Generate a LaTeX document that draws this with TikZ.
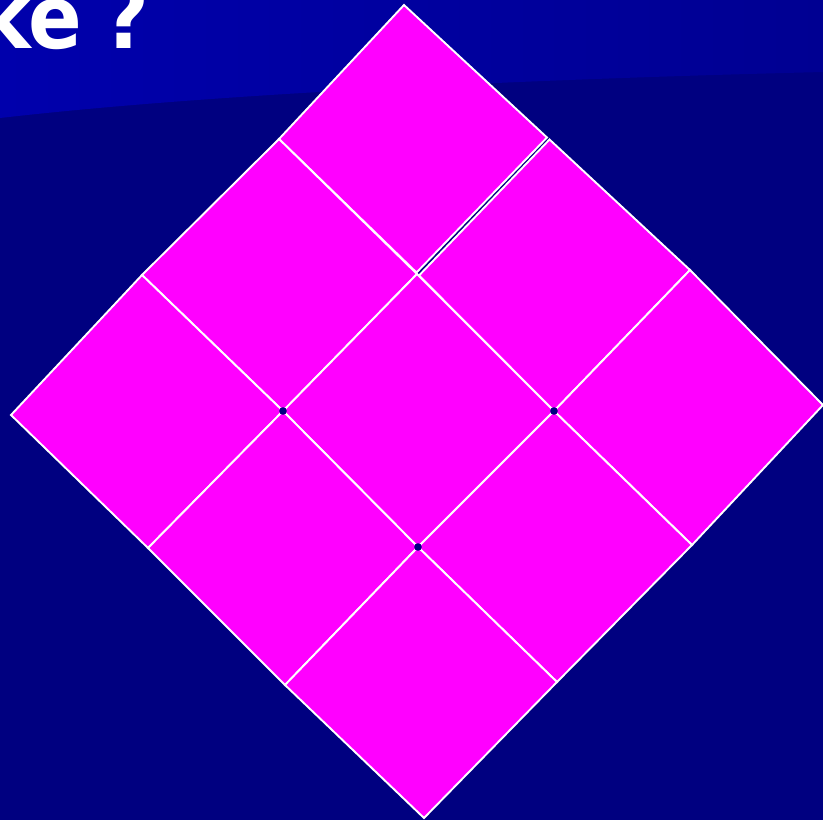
\documentclass[tikz,border=0pt]{standalone}
\usepackage{fontspec}
\setmainfont{DejaVu Sans}
\definecolor{navy}{RGB}{0,0,128}
\definecolor{bandL}{RGB}{0,0,172}
\definecolor{bandR}{RGB}{0,0,146}
\definecolor{mag}{RGB}{255,0,255}
\tikzset{tile/.style={fill=mag,draw=white,line width=1.9pt,line join=miter},
  gapdot/.style={fill=navy,draw=none}}
\begin{document}
\begin{tikzpicture}[x=1pt,y=-1pt]
\useasboundingbox (0,0) rectangle (823,820);
\clip (0,0) rectangle (823,820);
\fill[navy] (0,0) rectangle (823,820);
\shade[left color=bandL,right color=bandR] (0,0) -- (823,0) -- (823,72) .. controls (500,80) and (200,95) .. (0,118) -- cycle;
\node[anchor=base west,inner sep=0pt,text=white,xscale=0.9,transform shape,font=\bfseries\fontsize{88}{88}\selectfont] (title) at (-22,48) {ke\kern24pt?};
% lattice points
\coordinate (p00) at (404,5);
\coordinate (p10) at (548,138);
\coordinate (p20) at (690,270);
\coordinate (p30) at (823,405);
\coordinate (p01) at (279,139);
\coordinate (p11) at (417,274);
\coordinate (p21) at (554,411);
\coordinate (p31) at (692,545);
\coordinate (p02) at (142,275);
\coordinate (p12) at (283,411);
\coordinate (p22) at (418,547);
\coordinate (p32) at (557,682);
\coordinate (p03) at (11,415);
\coordinate (p13) at (148,548);
\coordinate (p23) at (285,685);
\coordinate (p33) at (424,818);
% tiles
\draw[tile] (p00) -- (547,137.5) -- (416.5,272.5) -- (p01) -- cycle;
\draw[tile] (549.5,139.5) -- (p20) -- (p21) -- (419,275.5) -- cycle;
\draw[tile] (p20) -- (p30) -- (p31) -- (p21) -- cycle;
\draw[tile] (p01) -- (p11) -- (p12) -- (p02) -- cycle;
\draw[tile] (p11) -- (p21) -- (p22) -- (p12) -- cycle;
\draw[tile] (p21) -- (p31) -- (p32) -- (p22) -- cycle;
\draw[tile] (p02) -- (p12) -- (p13) -- (p03) -- cycle;
\draw[tile] (p12) -- (p22) -- (p23) -- (p13) -- cycle;
\draw[tile] (p22) -- (p32) -- (p33) -- (p23) -- cycle;
% small gaps at inner corners
\fill[gapdot] (p12) circle (3.8);
\fill[gapdot] (p21) circle (3.8);
\fill[gapdot] (p22) circle (3.8);
\end{tikzpicture}
\end{document}
